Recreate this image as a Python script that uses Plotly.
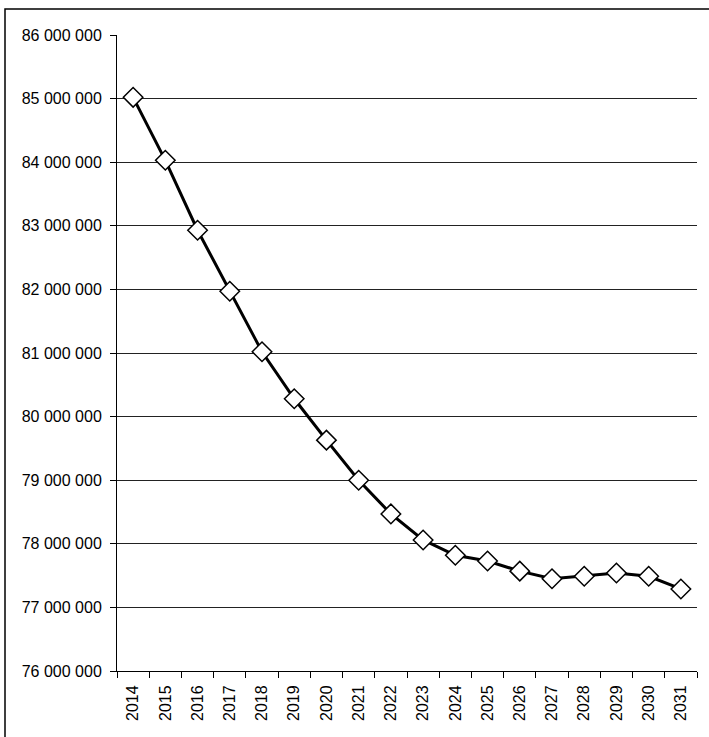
import plotly.graph_objects as go

YEARS = [str(y) for y in range(2014, 2032)]
POPULATION = [
    85_020_000, 84_030_000, 82_930_000, 81_970_000, 81_020_000, 80_280_000,
    79_630_000, 79_000_000, 78_470_000, 78_060_000, 77_820_000, 77_730_000,
    77_570_000, 77_450_000, 77_490_000, 77_540_000, 77_490_000, 77_290_000,
]
Y_TICKS = list(range(76_000_000, 86_000_001, 1_000_000))

W, H = 709, 737
L, R, T, B = 117, 12, 35, 66

fig = go.Figure()
fig.add_trace(
    go.Scatter(
        x=YEARS,
        y=POPULATION,
        mode="lines+markers",
        line=dict(color="black", width=3),
        marker=dict(
            symbol="diamond",
            size=15,
            color="white",
            line=dict(color="black", width=1.5),
        ),
        showlegend=False,
    )
)

fig.update_xaxes(
    type="category",
    range=[-0.5, len(YEARS) - 0.5],
    tickson="boundaries",
    ticks="outside",
    ticklen=6,
    tickcolor="black",
    tickangle=-90,
    ticklabelstandoff=7,
    showline=True,
    linecolor="black",
    linewidth=1,
    showgrid=False,
    tickfont=dict(family="Liberation Sans", size=16, color="black"),
)
fig.update_yaxes(
    range=[76_000_000, 86_000_000],
    tickvals=Y_TICKS,
    tickformat=",d",
    ticks="outside",
    ticklen=6,
    tickcolor="black",
    ticklabelstandoff=5,
    showline=True,
    linecolor="black",
    linewidth=1,
    showgrid=True,
    gridcolor="#222222",
    gridwidth=1,
    zeroline=False,
    tickfont=dict(family="Liberation Sans", size=16, color="black"),
)

# outer chart-area frame (runs off the right and bottom edges)
pw, ph = W - L - R, H - T - B
fig.add_shape(
    type="rect",
    xref="paper",
    yref="paper",
    x0=(5 - L) / pw,
    x1=(W + 20 - L) / pw,
    y0=(H - B - (H + 20)) / ph,
    y1=(H - B - 9) / ph,
    line=dict(color="black", width=1.5),
    fillcolor="rgba(0,0,0,0)",
    layer="below",
)

fig.update_layout(
    width=W,
    height=H,
    margin=dict(l=L, r=R, t=T, b=B),
    separators=". ",
    plot_bgcolor="white",
    paper_bgcolor="white",
)

fig.write_html(
    "out.html",
    config={"displayModeBar": False},
    post_script="document.body.style.margin='0';",
)
